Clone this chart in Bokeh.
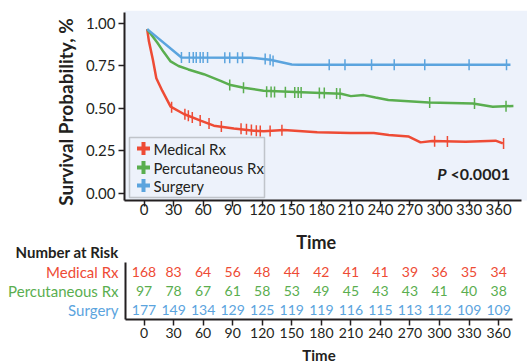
import numpy as np
from bokeh.plotting import figure
from bokeh.models import (Range1d, FixedTicker, NumeralTickFormatter, Label, BoxAnnotation,
                          ColumnDataSource, LinearAxis)
from bokeh.embed import file_html
from bokeh.resources import INLINE
from bokeh.core.properties import value

FONT = "Lato"
INK = "#231F20"
RED, GREEN, BLUE = "#EE4B35", "#5AAE4F", "#5BA4DE"
BG = "#EDF2FB"

# ---------------- data ----------------
groups = ["Medical Rx", "Percutaneous Rx", "Surgery"]

med_t = [3.2, 4.9, 9, 12.5, 18.5, 27, 40.4, 57.4, 70.9, 91.2, 111.5, 121.6, 141.9,
         175.8, 209.6, 233.3, 248.5, 268.8, 280.7, 292.6, 326.4, 356.9, 364.3]
med_s = [0.965, 0.896, 0.785, 0.676, 0.603, 0.509, 0.466, 0.427, 0.397, 0.381, 0.368, 0.364, 0.372,
         0.358, 0.354, 0.354, 0.343, 0.333, 0.299, 0.307, 0.302, 0.309, 0.293]
med_cens_t = [28, 41.5, 45, 49, 57, 66, 78.5, 98.5, 104, 109, 114, 118, 128, 140, 295, 308, 365]
med_cens_s = [0.505, 0.465, 0.456, 0.446, 0.427, 0.41, 0.392, 0.379, 0.376, 0.372, 0.368, 0.366,
              0.366, 0.371, 0.305, 0.304, 0.293]

per_t = [3.2, 13.4, 20, 27, 35, 45, 60.7, 77.7, 87.8, 101.3, 121.3, 160, 200, 210, 223, 235,
         248, 289, 334, 354, 375]
per_s = [0.965, 0.886, 0.83, 0.775, 0.748, 0.728, 0.70, 0.661, 0.636, 0.620, 0.603, 0.594, 0.585,
         0.571, 0.577, 0.563, 0.548, 0.534, 0.527, 0.509, 0.513]
per_cens_t = [87, 101, 124.5, 129, 132.5, 143.5, 153, 156.5, 159.5, 178, 183, 195.5, 199, 290, 335.5, 367.5]
per_cens_s = [0.636, 0.620, 0.597, 0.596, 0.595, 0.594, 0.593, 0.593, 0.592, 0.589, 0.589, 0.586,
              0.585, 0.534, 0.527, 0.512]

sur_t = [3.2, 38, 108, 128, 150, 157, 372]
sur_s = [0.965, 0.798, 0.797, 0.785, 0.757, 0.755, 0.755]
sur_cens_t = [38, 46, 50, 53, 57, 60, 64.5, 82, 87, 95, 100, 123, 128, 131, 188, 204, 231, 254,
              285, 330, 368]
sur_cens_s = [0.798, 0.798, 0.798, 0.798, 0.798, 0.798, 0.798, 0.797, 0.797, 0.797, 0.797, 0.79,
              0.785, 0.778, 0.755, 0.755, 0.755, 0.755, 0.755, 0.755, 0.755]

risk_times = [0, 30, 60, 90, 120, 150, 180, 210, 240, 270, 300, 330, 360]
risk_med = [168, 83, 64, 56, 48, 44, 42, 41, 41, 39, 36, 35, 34]
risk_per = [97, 78, 67, 61, 58, 53, 49, 45, 43, 43, 41, 40, 38]
risk_sur = [177, 149, 134, 129, 125, 119, 119, 116, 115, 113, 112, 109, 109]

y_ticks = [0, 0.25, 0.5, 0.75, 1.0]
p_text = "<0.0001"

colors = [RED, GREEN, BLUE]


def style_axis(ax, size):
    ax.axis_line_width = 2
    ax.axis_line_color = INK
    ax.major_tick_line_color = INK
    ax.major_tick_line_width = 1.5
    ax.major_tick_out = 6
    ax.major_tick_in = 0
    ax.minor_tick_line_color = None
    ax.major_label_text_font = FONT
    ax.major_label_text_font_size = size
    ax.major_label_text_color = INK


def lab(fig, text, x, y, size, color=INK, style="normal", align="left", angle=0.0, level="annotation"):
    fig.add_layout(Label(x=x, y=y, x_units="screen", y_units="screen", text=text, text_font=FONT,
                         text_font_size=size, text_font_style=style, text_color=color, angle=angle,
                         text_align=align, text_baseline="middle", level=level))


SU = dict(left_units="screen", right_units="screen", top_units="screen", bottom_units="screen")

# One figure: the frame covers the whole canvas below y=10; the survival panel
# (default y range) sits on top and the at-risk table (extra "risk" y range) below.
p = figure(width=527, height=363, x_range=Range1d(-145.7, 389.3), y_range=Range1d(-1.0018, 1.0747),
           output_backend="svg", toolbar_location=None,
           min_border_left=0, min_border_right=0, min_border_top=10, min_border_bottom=0)
p.extra_y_ranges = {"risk": Range1d(-1.816, 16.763)}
p.background_fill_color = "white"
p.border_fill_color = "white"
p.outline_line_color = None
p.grid.visible = False

# light panel behind the survival curves (screen units from frame left / bottom)
p.add_layout(BoxAnnotation(left=124, bottom=163, fill_color=BG, fill_alpha=1, line_color=None,
                           level="underlay", left_units="screen", bottom_units="screen"))

# survival axes
style_axis(p.xaxis[0], "15px")
style_axis(p.yaxis[0], "15px")
p.xaxis.ticker = FixedTicker(ticks=risk_times)
p.xaxis.major_label_standoff = -3
p.xaxis.bounds = (-19.8, 383)
p.xaxis.fixed_location = -0.043
p.yaxis.ticker = FixedTicker(ticks=y_ticks)
p.yaxis.formatter = NumeralTickFormatter(format="0.00")
p.yaxis.major_label_standoff = 3
p.yaxis.fixed_location = -19.8
p.yaxis.bounds = (-0.043, 1.06)

# at-risk table axis
rx = LinearAxis(y_range_name="risk", fixed_location=0.5, bounds=(-19.3, 374),
                ticker=FixedTicker(ticks=risk_times))
style_axis(rx, "14px")
rx.major_label_standoff = 3
p.add_layout(rx, "below")
p.add_layout(BoxAnnotation(left=124, right=126, bottom=44, top=101, fill_color=INK, fill_alpha=1,
                           line_color=None, **SU))

lab(p, "Survival Probability, %", 64.5, 251.5, "19px", style="bold", align="center", angle=np.pi / 2)

for (t, s, ct, cs, c) in [(med_t, med_s, med_cens_t, med_cens_s, RED),
                          (per_t, per_s, per_cens_t, per_cens_s, GREEN),
                          (sur_t, sur_s, sur_cens_t, sur_cens_s, BLUE)]:
    p.line(t, s, line_color=c, line_width=2.5)
    p.scatter(ct, cs, marker="dash", angle=np.pi / 2, size=11, line_color=c, line_width=1.5)

# legend
p.add_layout(BoxAnnotation(left=129, right=264, top=226, bottom=166, fill_color=BG, fill_alpha=1,
                           line_color="#5A5A5A", line_width=1.5, level="annotation", **SU))
leg_y = [215, 196, 178]
for g, c, ly in zip(groups, colors, leg_y):
    cx = 143
    p.add_layout(BoxAnnotation(left=cx - 6.5, right=cx + 6.5, bottom=ly - 2, top=ly + 2,
                               fill_color=c, fill_alpha=1, line_color=None, level="overlay", **SU))
    p.add_layout(BoxAnnotation(left=cx - 2, right=cx + 2, bottom=ly - 6.5, top=ly + 6.5,
                               fill_color=c, fill_alpha=1, line_color=None, level="overlay", **SU))
    lab(p, g, 153, ly, "15px", level="overlay")

lab(p, "P", 436.7, 190.3, "16px", style="bold italic")
lab(p, p_text, 450, 190.3, "16px", style="bold")

# at-risk numbers
rows = [3, 2, 1]
xs, ys, txt, cols = [], [], [], []
for vals, row, c in zip([risk_med, risk_per, risk_sur], rows, colors):
    xs += risk_times
    ys += [row] * len(risk_times)
    txt += [str(v) for v in vals]
    cols += [c] * len(risk_times)
src = ColumnDataSource(dict(x=xs, y=ys, text=txt, color=cols))
p.text(x="x", y="y", text="text", text_color="color", source=src, text_align="center",
       text_baseline="middle", text_font=value(FONT), text_font_size=value("14px"), y_range_name="risk")

row_y = [91.5, 72.5, 53.5]
for g, ry, c in zip(groups, row_y, colors):
    lab(p, g, 118, ry, "15px", color=c, align="right")

lab(p, "Number at Risk", 118, 112, "15px", style="bold", align="right")
lab(p, "Time", 315.7, 122, "18px", style="bold", align="center")
lab(p, "Time", 318.5, 8.5, "15px", style="bold", align="center")

open("out.html", "w").write(file_html(p, INLINE))
